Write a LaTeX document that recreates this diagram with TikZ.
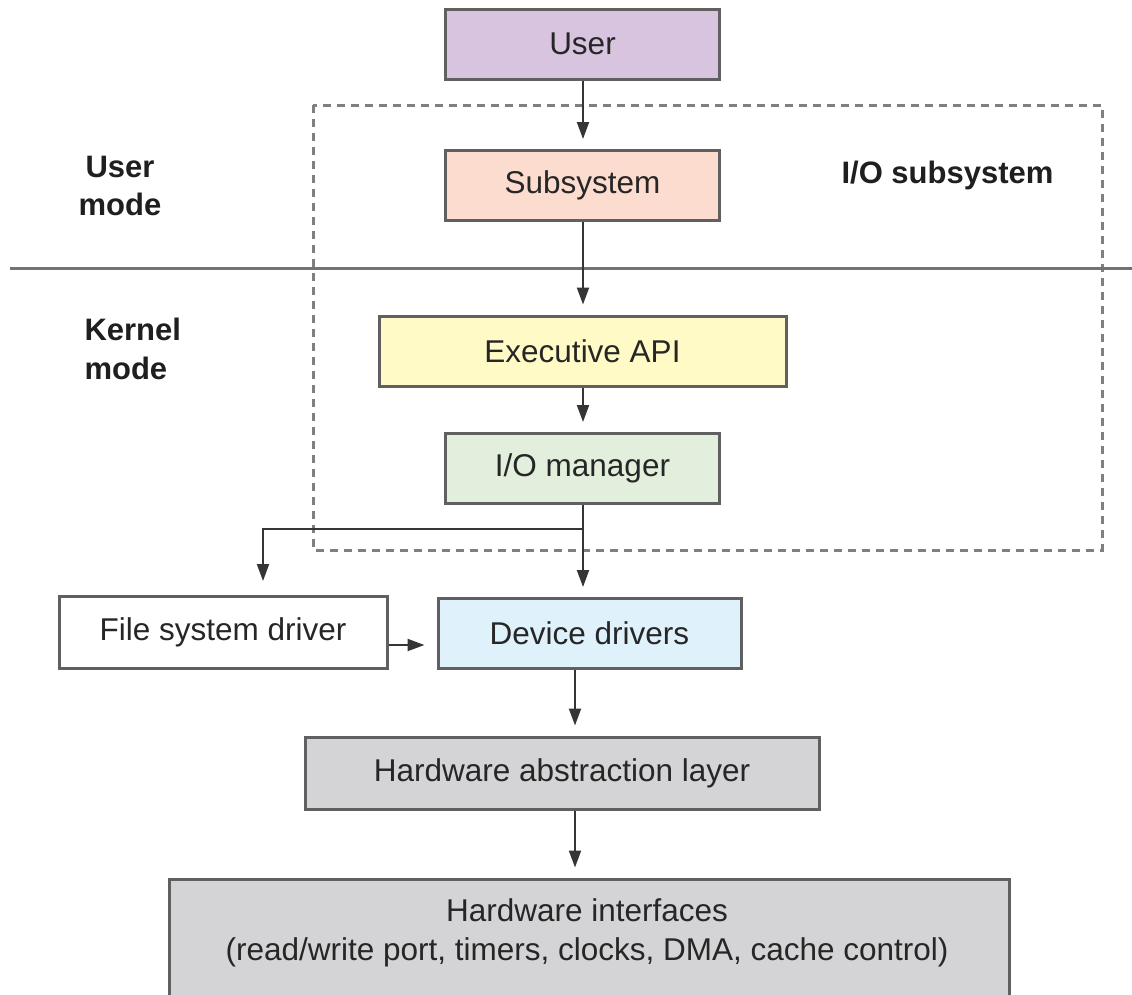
\documentclass[tikz,border=0pt]{standalone}
\usepackage{fontspec}
\setmainfont{Liberation Sans}
\usetikzlibrary{arrows.meta}
\definecolor{cuser}{HTML}{D9C4E0}
\definecolor{csub}{HTML}{FCDCCF}
\definecolor{cexe}{HTML}{FFFAC6}
\definecolor{cio}{HTML}{E1EFDC}
\definecolor{cdev}{HTML}{DFF1FB}
\definecolor{chw}{HTML}{D4D4D6}
\definecolor{cline}{HTML}{353535}
\definecolor{cbord}{HTML}{606060}
\tikzset{
  box/.style={draw=cbord, line width=3pt, inner sep=0pt, font=\fontsize{31.5}{38}\selectfont, text=black!85},
  arr/.style={draw=cline, line width=2pt, shorten >=10pt, -{Triangle[length=17pt,width=12pt]}},
  lab/.style={font=\bfseries\fontsize{31}{38.5}\selectfont, text=black!88}
}
\begin{document}
\begin{tikzpicture}[x=1pt,y=-1pt]
\useasboundingbox (0,0) rectangle (1132,994);
\fill[white] (0,0) rectangle (1132,994);
% dashed I/O subsystem box
\draw[draw=black!50, line width=3pt, dash pattern=on 8pt off 6pt] (313,105) rectangle (1102,550);
% separator line
\draw[draw=black!55, line width=3pt] (10,268) -- (1132,268);
% boxes
\node[box, fill=cuser, minimum width=274pt, minimum height=70pt] (user) at (582.5,44) {User};
\node[box, fill=csub, minimum width=274pt, minimum height=70pt] (sub) at (582.5,185.5) {Subsystem};
\node[box, fill=cexe, minimum width=407pt, minimum height=70pt] (exe) at (582.5,351) {Executive API};
\node[box, fill=cio, minimum width=274pt, minimum height=70pt] (iom) at (582.5,468.5) {I/O manager};
\node[box, fill=white, minimum width=328pt, minimum height=72pt] (fsd) at (223,632.5) {File system driver};
\node[box, fill=cdev, minimum width=303pt, minimum height=70pt] (dev) at (589.5,633.5) {Device drivers};
\node[box, fill=chw, minimum width=514pt, minimum height=72pt] (hal) at (562,773) {Hardware abstraction layer};
\node[box, fill=chw, minimum width=840pt, minimum height=130pt] (hwi) at (589,944) {};
\node[font=\fontsize{31.5}{39.5}\selectfont, align=center, text=black!85] (hwitext) at (587,933) {Hardware interfaces\\(read/write port, timers, clocks, DMA, cache control)};
% labels
\node[lab, align=center] (um) at (120,186) {User\\mode};
\node[lab, align=left, anchor=west] (km) at (81,349) {Kernel\\mode};
\node[lab, anchor=west] (ios) at (838,175) {I/O subsystem};
% arrows
\draw[arr] (user.south -| 583,0) -- (sub.north -| 583,0);
\draw[arr] (sub.south -| 583,0) -- (exe.north -| 583,0);
\draw[arr] (exe.south -| 583,0) -- (iom.north -| 583,0);
\draw[arr] (iom.south -| 583,0) -- (dev.north -| 583,0);
\coordinate (br) at (583,529);
\draw[arr, shorten >=14pt] (br) -| (fsd.north -| 263,0);
\draw[arr, shorten >=12pt] (fsd.east |- 0,645) -- (dev.west |- 0,645);
\draw[arr] (dev.south -| 575,0) -- (hal.north -| 575,0);
\draw[arr] (hal.south -| 575,0) -- (hwi.north -| 575,0);
\end{tikzpicture}
\end{document}
